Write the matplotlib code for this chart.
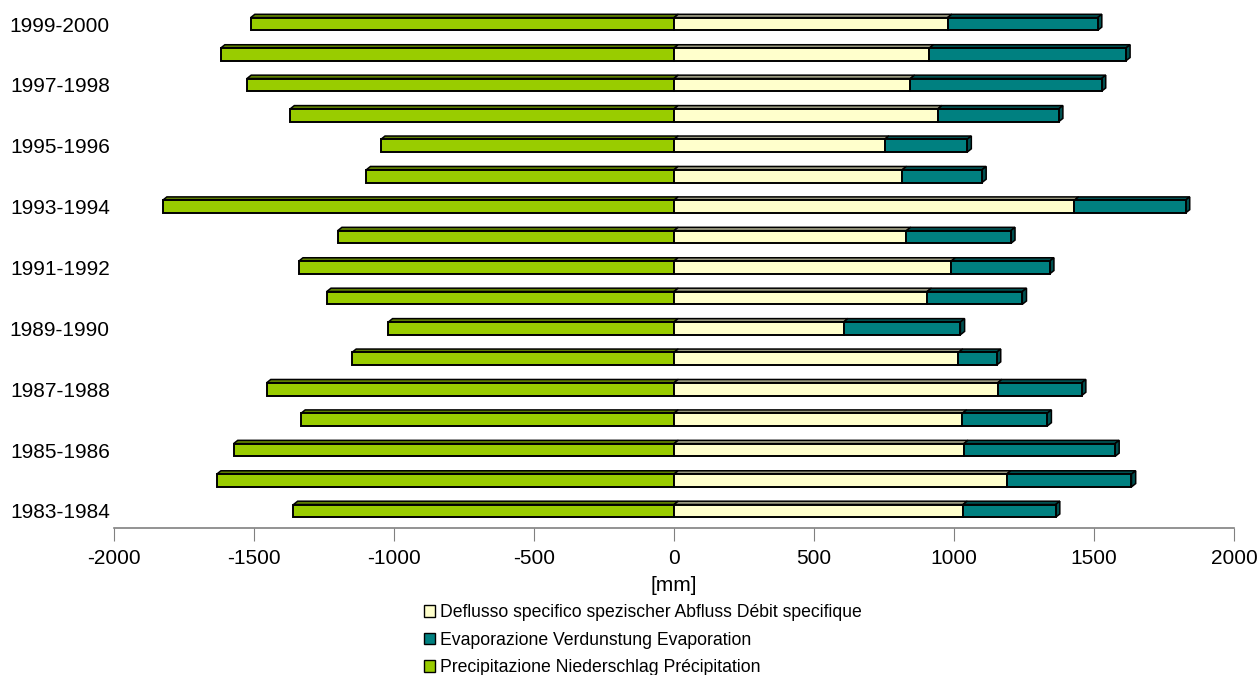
import numpy as np
import matplotlib
matplotlib.use("Agg")
import matplotlib.pyplot as plt
from matplotlib.patches import Polygon, Patch

plt.rcParams["font.family"] = ["Liberation Sans", "DejaVu Sans"]
plt.rcParams["axes.unicode_minus"] = False

# hydrological years, bottom to top
years = [
    "1983-1984", "1984-1985", "1985-1986", "1986-1987", "1987-1988",
    "1988-1989", "1989-1990", "1990-1991", "1991-1992", "1992-1993",
    "1993-1994", "1994-1995", "1995-1996", "1996-1997", "1997-1998",
    "1998-1999", "1999-2000",
]
# [mm]
precipitation = [1359, 1633, 1573, 1332, 1455, 1150, 1020, 1240, 1340,
                 1201, 1826, 1099, 1047, 1371, 1525, 1619, 1512]
runoff = [1032, 1188, 1035, 1030, 1156, 1016, 606, 904, 990,
          830, 1430, 815, 752, 942, 844, 912, 977]
evaporation = [331, 446, 540, 303, 300, 136, 417, 340, 352,
               373, 397, 285, 295, 432, 683, 702, 536]

labels = ["Deflusso specifico spezischer Abfluss Débit specifique",
          "Evaporazione Verdunstung Evaporation",
          "Precipitazione Niederschlag Précipitation"]
colors = {"runoff": "#FFFFCC", "evap": "#008080", "prec": "#99CC00"}
tops = {"runoff": "#9A9A80", "evap": "#005050", "prec": "#5E7F00"}

fig = plt.figure(figsize=(12.58, 6.75), dpi=100)
ax = fig.add_axes([0.0906, 0.2178, 0.8903, 0.7822])

y = np.arange(len(years))
h = 0.21      # half bar thickness
dx = 15       # depth, x units
dy = 0.11     # depth, y units


def bar3d(x0, x1, yc, key, side=False):
    ax.add_patch(Polygon([(x0, yc + h), (x0 + dx, yc + h + dy),
                          (x1 + dx, yc + h + dy), (x1, yc + h)],
                         closed=True, fc=tops[key], ec="black", lw=1.1, zorder=2))
    if side:
        ax.add_patch(Polygon([(x1, yc - h), (x1 + dx, yc - h + dy),
                              (x1 + dx, yc + h + dy), (x1, yc + h)],
                             closed=True, fc=tops[key], ec="black", lw=1.1, zorder=2))
    ax.add_patch(Polygon([(x0, yc - h), (x0, yc + h), (x1, yc + h), (x1, yc - h)],
                         closed=True, fc=colors[key], ec="black", lw=1.4, zorder=3))


for i in range(len(years)):
    p = precipitation[i]
    r = runoff[i]
    e = evaporation[i]
    bar3d(-p, 0, y[i], "prec")
    bar3d(0, r, y[i], "runoff")
    bar3d(r, r + e, y[i], "evap", side=True)

ax.set_xlim(-2000, 2000)
ax.set_ylim(-0.56, 16.79)
ax.set_xticks(np.arange(-2000, 2001, 500))
ax.tick_params(axis="x", labelsize=15, length=9, color="#808080", pad=6)
ax.set_yticks(y[::2])
ax.set_yticklabels(years[::2])
ax.tick_params(axis="y", labelsize=15, length=0, pad=3)
for s in ["top", "right", "left"]:
    ax.spines[s].set_visible(False)
ax.spines["bottom"].set_color("#808080")
ax.spines["bottom"].set_linewidth(1.2)
ax.set_xlabel("[mm]", fontsize=15, labelpad=6)

handles = [Patch(fc=colors["runoff"], ec="black"),
           Patch(fc=colors["evap"], ec="black"),
           Patch(fc=colors["prec"], ec="black")]
fig.legend(handles, labels, loc="upper left", bbox_to_anchor=(0.337, 1 - 604 / 675),
           frameon=False, fontsize=12.7, handlelength=0.65, handleheight=0.65,
           handletextpad=0.25, labelspacing=0.6, borderaxespad=0, borderpad=0)

fig.savefig("out.png", dpi=100)
